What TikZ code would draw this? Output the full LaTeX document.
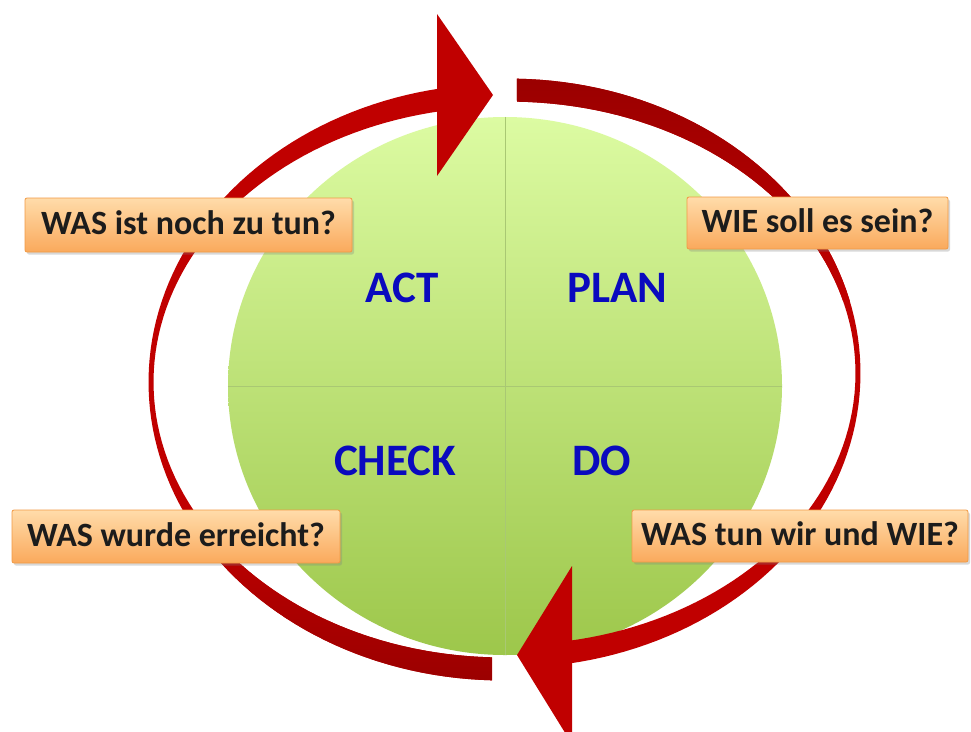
\documentclass[tikz,border=0pt]{standalone}
\usepackage{fontspec}
\setmainfont{Carlito}
\usetikzlibrary{shadows,shapes.geometric}

\definecolor{ringred}{HTML}{C00000}
\definecolor{ringdark}{HTML}{990000}
\definecolor{discTop}{HTML}{DCFBA2}
\definecolor{discBot}{HTML}{9DC74B}
\definecolor{divline}{HTML}{A9C873}
\definecolor{phaseblue}{HTML}{0A0ABE}
\definecolor{boxTop}{HTML}{FFDCAA}
\definecolor{boxBot}{HTML}{FAA95C}
\definecolor{boxEdge}{HTML}{F19A45}
\definecolor{qtext}{HTML}{1C1C1C}

\tikzset{
  phase/.style={font=\fontsize{45}{54}\selectfont\bfseries, text=phaseblue,
    anchor=base, inner sep=0pt},
  question/.style={draw=boxEdge, line width=0.8pt, rounded corners=2pt,
    top color=boxTop, bottom color=boxBot, text=qtext,
    font=\fontsize{34}{40}\selectfont\bfseries, inner sep=0pt,
    text height=25pt, text depth=6pt,
    drop shadow={shadow xshift=2pt, shadow yshift=-2.5pt, opacity=0.3}},
  divider/.style={draw=divline, line width=0.9pt},
}

% ring geometry: centre and half axes of the outer and inner rims
\def\rcx{504.5}
\def\rcy{379.5}
\def\rox{356}
\def\roy{301}
\def\rix{351}
\def\riy{278}

\begin{document}
\begin{tikzpicture}[x=1pt, y=-1pt]
\useasboundingbox (0,0) rectangle (971,731);
\fill[white] (0,0) rectangle (971,731);
\begin{scope}
\clip (0,0) rectangle (971,731);

% green disc split into four quadrants
\node[ellipse, minimum width=554pt, minimum height=538pt, inner sep=0pt,
      top color=discTop, bottom color=discBot] (disc) at (505,386) {};
\draw[divider] (disc.north) -- (disc.south);
\draw[divider] (disc.west) -- (disc.east);

% left arc: from the bottom round the left side up to the top arrowhead
\path[save path=\leftarc]
  plot[domain=92:259.7, samples=90, variable=\t]
    ({\rcx+\rox*cos(\t)}, {\rcy+\roy*sin(\t)+5*(\t-92)/168})
  -- plot[domain=259.6:92.04, samples=90, variable=\t]
    ({\rcx+\rix*cos(\t)}, {\rcy+\riy*sin(\t)+5*(\t-92)/168})
  -- cycle;
\fill[ringred, use path=\leftarc];
\begin{scope}
  \clip[use path=\leftarc];
  \shade[top color=ringred, bottom color=ringdark] (100,520) rectangle (500,690);
\end{scope}
\fill[ringred] (437,14) -- (493,95) -- (437,176) -- cycle;

% right arc: from the top round the right side down to the bottom arrowhead
\path[save path=\rightarc]
  plot[domain=-88:79.7, samples=90, variable=\t]
    ({\rcx+\rox*cos(\t)}, {\rcy+\roy*sin(\t)-12*(\t+88)/168})
  -- plot[domain=79.6:-87.96, samples=90, variable=\t]
    ({\rcx+\rix*cos(\t)}, {\rcy+\riy*sin(\t)-12*(\t+88)/168})
  -- cycle;
\fill[ringred, use path=\rightarc];
\begin{scope}
  \clip[use path=\rightarc];
  \shade[top color=ringdark, bottom color=ringred] (500,70) rectangle (880,300);
\end{scope}
\fill[ringred] (572,566) -- (517,655) -- (572,744) -- cycle;

% phase names
\node[phase] (act)   at (402.5,302) {ACT};
\node[phase] (plan)  at (617.5,302) {PLAN};
\node[phase] (check) at (395,475)   {CHECK};
\node[phase] (do)    at (602,475)   {DO};

% guiding questions
\node[question, minimum width=327pt, minimum height=54pt] (q1) at (188.5,225) {WAS ist noch zu tun?};
\node[question, minimum width=261pt, minimum height=52pt] (q2) at (817.5,223) {WIE soll es sein?};
\node[question, minimum width=328pt, minimum height=53pt] (q3) at (176,536.5) {WAS wurde erreicht?};
\node[question, minimum width=336pt, minimum height=52pt] (q4) at (800,536) {WAS tun wir und WIE?};
\end{scope}
\end{tikzpicture}
\end{document}
